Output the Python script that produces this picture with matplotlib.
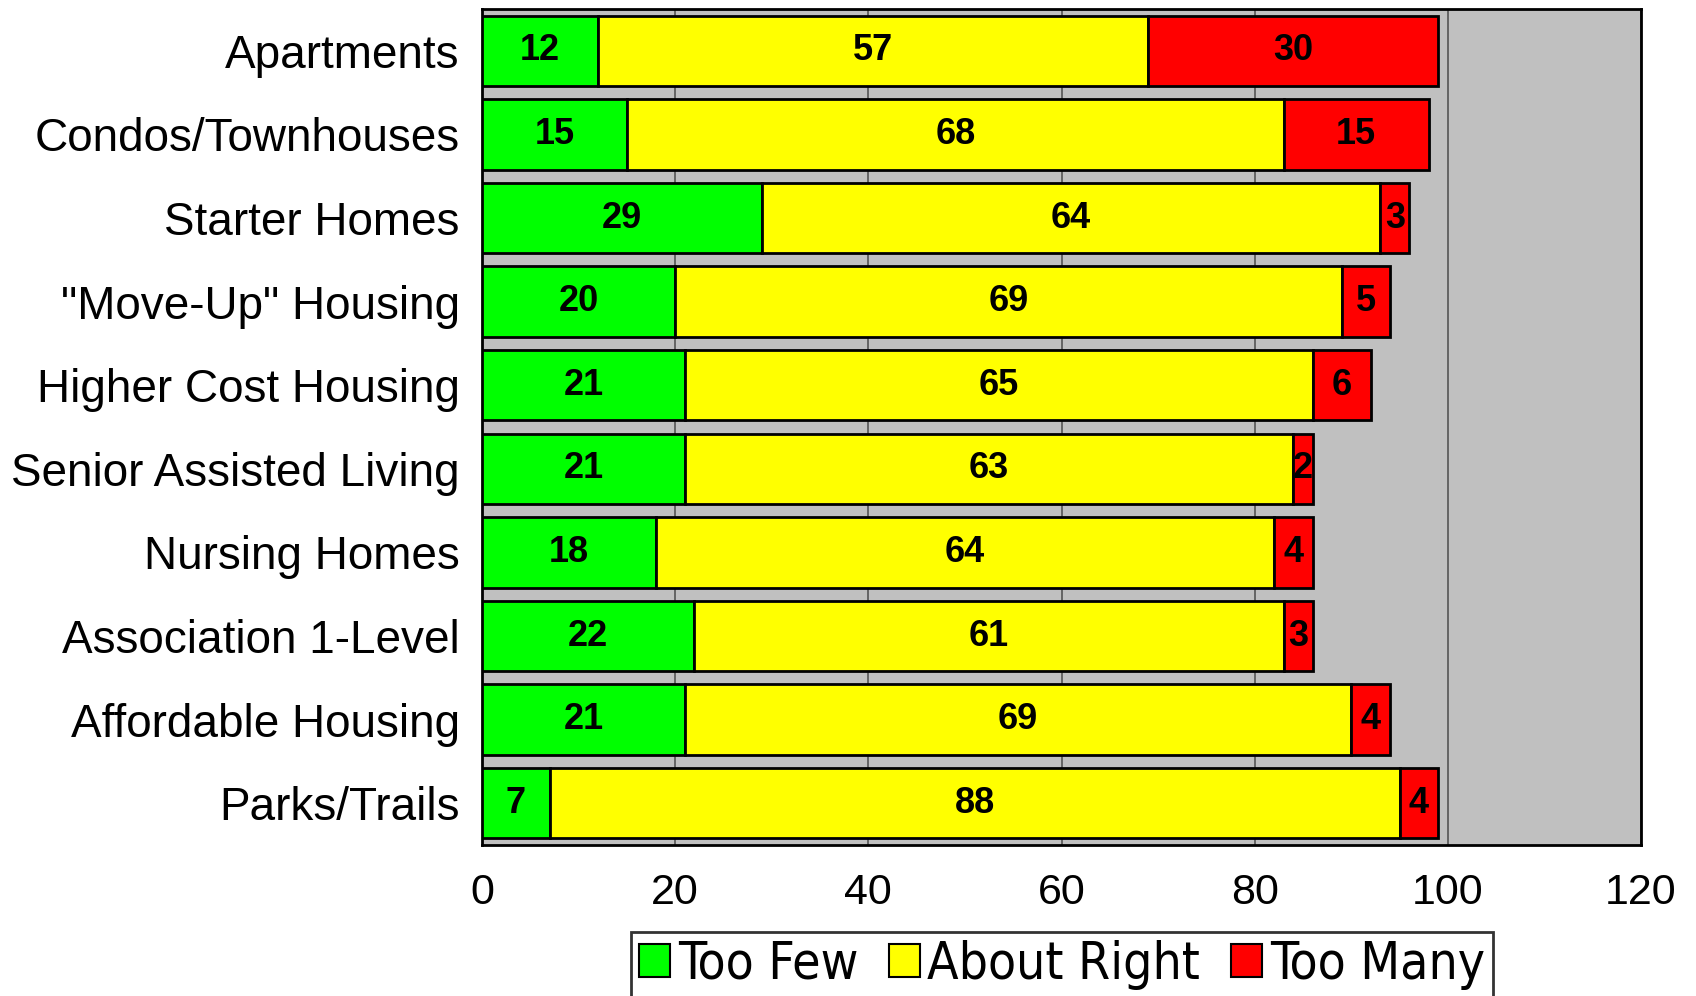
import numpy as np
import matplotlib.pyplot as plt

# data
categories = ['Apartments', 'Condos/Townhouses', 'Starter Homes', '"Move-Up" Housing',
              'Higher Cost Housing', 'Senior Assisted Living', 'Nursing Homes',
              'Association 1-Level', 'Affordable Housing', 'Parks/Trails']
too_few = [12, 15, 29, 20, 21, 21, 18, 22, 21, 7]
about_right = [57, 68, 64, 69, 65, 63, 64, 61, 69, 88]
too_many = [30, 15, 3, 5, 6, 2, 4, 3, 4, 4]
series_names = ['Too Few', 'About Right', 'Too Many']
colors = ['#00FF00', '#FFFF00', '#FF0000']

plt.rcParams['font.family'] = ['Liberation Sans', 'DejaVu Sans']

fig = plt.figure(figsize=(16.96, 9.96), dpi=100)
ax = fig.add_axes([482/1696, 1 - 845/996, (1641-482)/1696, (845-9)/996])
ax.set_facecolor('#C0C0C0')

y = np.arange(len(categories))
left = np.zeros(len(categories))
for vals, name, col in zip([too_few, about_right, too_many], series_names, colors):
    bars = ax.barh(y, vals, left=left, height=0.84, color=col, edgecolor='black',
                   linewidth=2, label=name, zorder=3)
    for b, v in zip(bars, vals):
        ax.text(b.get_x() + b.get_width() / 2, b.get_y() + b.get_height() / 2, str(v),
                ha='center', va='center', fontsize=26, fontweight='bold', zorder=4)
    left += np.array(vals)

ax.set_xlim(0, 120)
ax.set_ylim(len(categories) - 0.5, -0.5)
ax.set_xticks(range(0, 121, 20))
ax.set_yticks(y)
ax.set_yticklabels(categories, fontsize=33)
ax.tick_params(axis='x', labelsize=31, length=0, pad=20)
ax.tick_params(axis='y', length=0, pad=16)
ax.grid(axis='x', color='#555555', linewidth=1.2, zorder=1)
for s in ax.spines.values():
    s.set_linewidth(2)

leg = fig.legend(loc='upper center', bbox_to_anchor=(1062/1696, 1 - 932/996), ncol=3,
                 frameon=True, fancybox=False, edgecolor='black',
                 prop={'family': 'DejaVu Sans', 'stretch': 'condensed', 'size': 37},
                 handlelength=0.6, handleheight=0.6,
                 handletextpad=0.15, columnspacing=0.6, borderpad=0.15, borderaxespad=0)
leg.get_frame().set_linewidth(2)
for h in leg.legend_handles:
    h.set_linewidth(1.5)

fig.savefig('out.png', dpi=100)
